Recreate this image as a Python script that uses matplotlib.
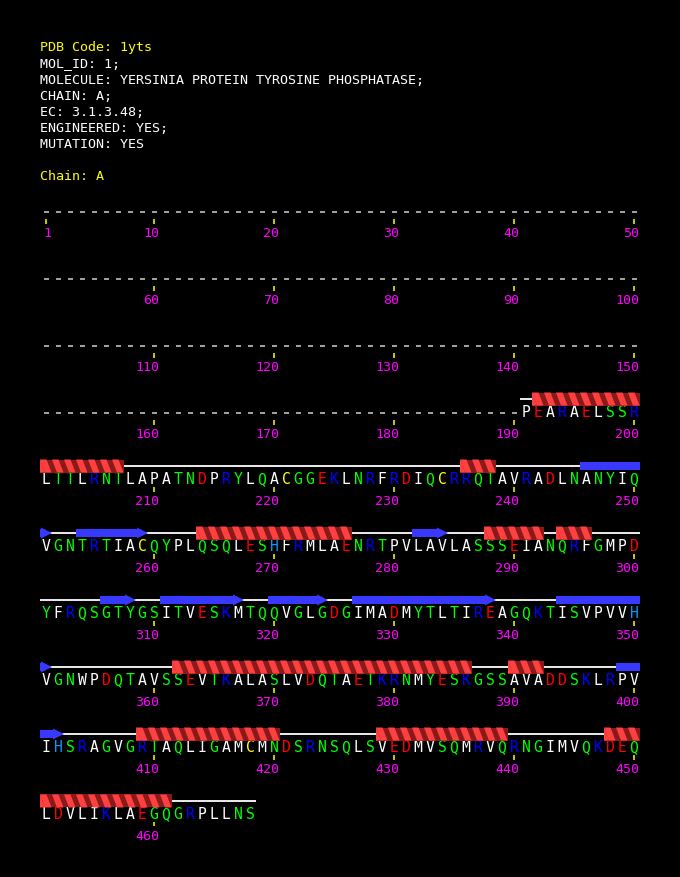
import matplotlib
matplotlib.use("Agg")
import matplotlib.pyplot as plt
from matplotlib.patches import Polygon, Rectangle

# ---------------- data ----------------
pdb_code = "1yts"
header_lines = [
    "MOL_ID: 1;",
    "MOLECULE: YERSINIA PROTEIN TYROSINE PHOSPHATASE;",
    "CHAIN: A;",
    "EC: 3.1.3.48;",
    "ENGINEERED: YES;",
    "MUTATION: YES",
]
chain_id = "A"
n_residues = 468
first_observed = 191
observed_seq = (
    "PEARAELSSR"
    "LTTLRNTLAPATNDPRYLQACGGEKLNRFRDIQCRRQTAVRADLNANYIQ"
    "VGNTRTIACQYPLQSQLESHFRMLAENRTPVLAVLASSSEIANQRFGMPD"
    "YFRQSGTYGSITVESKMTQQVGLGDGIMADMYTLTIREAGQKTISVPVVH"
    "VGNWPDQTAVSSEVTKALASLVDQTAETKRNMYESKGSSAVADDSKLRPV"
    "IHSRAGVGRTAQLIGAMCMNDSRNSQLSVEDMVSQMRVQRNGIMVQKDEQ"
    "LDVLIKLAEGQGRPLLNS"
)
helices = [(192, 207), (236, 238), (264, 276), (288, 292), (294, 296),
           (362, 386), (390, 392), (409, 420), (429, 439), (448, 461)]
strands = [(246, 251), (254, 259), (282, 284), (306, 308), (311, 317),
           (320, 324), (327, 338), (344, 351), (399, 402)]
label_residues = [1] + list(range(10, 461, 10))

# ---------------- style ----------------
W, H = 680, 878
per_row = 50
cell = 12.0
x_first = 46.0
y_first = 212.0
row_gap = 67.0
font = "DejaVu Sans Mono"
fs = 9.6
fs_seq = 10.6

res_colors = {}
for a in "AVLIMFWP":
    res_colors[a] = "#ffffff"
for a in "STNQGY":
    res_colors[a] = "#00ff00"
for a in "DE":
    res_colors[a] = "#ff0000"
for a in "KR":
    res_colors[a] = "#0000ff"
res_colors["H"] = "#0099ff"
res_colors["C"] = "#ffff00"

helix_light = "#ff4040"
helix_dark = "#8a1a1a"
strand_col = "#3838ff"

fig = plt.figure(figsize=(W / 100, H / 100), dpi=100)
fig.patch.set_facecolor("black")
ax = fig.add_axes([0, 0, 1, 1])
ax.set_xlim(0, W)
ax.set_ylim(H, 0)
ax.axis("off")
ax.set_facecolor("black")


def pos(n):
    r = (n - 1) // per_row
    c = (n - 1) % per_row
    return x_first + c * cell, y_first + r * row_gap


# header
ax.text(40, 48, f"PDB Code: {pdb_code}", color="#ffff00", fontsize=fs,
        family=font, va="center", ha="left")
for i, line in enumerate(header_lines):
    ax.text(40, 64 + 16 * i, line, color="#ffffff", fontsize=fs,
            family=font, va="center", ha="left")
ax.text(40, 177, f"Chain: {chain_id}", color="#ffff00", fontsize=fs,
        family=font, va="center", ha="left")

# residues
for n in range(1, n_residues + 1):
    x, y = pos(n)
    if n < first_observed:
        ax.plot([x - 2.5, x + 2.5], [y + 0.5, y + 0.5], color="#d0d0d0",
                lw=1.1, solid_capstyle="butt")
    else:
        aa = observed_seq[n - first_observed]
        ax.text(x, y, aa, color=res_colors.get(aa, "#ffffff"), fontsize=fs_seq,
                family=font, ha="center", va="center")

# labels and ticks
for n in label_residues:
    x, y = pos(n)
    ax.plot([x, x], [y + 8.0, y + 12.5], color="#ffff00", lw=1.1,
            solid_capstyle="butt")
    ax.text(x + 5, y + 21.5, str(n), color="#ff00ff", fontsize=fs,
            family=font, ha="right", va="center")


def row_segments(a, b):
    segs = []
    n = a
    while n <= b:
        r = (n - 1) // per_row
        row_end = (r + 1) * per_row
        e = min(b, row_end)
        segs.append((n, e))
        n = e + 1
    return segs


# coil line
for a, b in row_segments(first_observed, n_residues):
    xa, y = pos(a)
    xb, _ = pos(b)
    ax.plot([xa - cell / 2, xb + cell / 2], [y - 13, y - 13],
            color="#ffffff", lw=1.3, solid_capstyle="butt", zorder=2)

# helices
for hs, he in helices:
    for a, b in row_segments(hs, he):
        xa, y = pos(a)
        xb, _ = pos(b)
        yc = y - 13
        top, bot = yc - 6.5, yc + 6.5
        left, right = xa - cell / 2, xb + cell / 2
        ax.add_patch(Rectangle((left, top), right - left, bot - top,
                               facecolor=helix_dark, edgecolor="none", zorder=3))
        for n in range(a, b + 1):
            xl = pos(n)[0] - cell / 2
            poly = [(xl, top), (xl + 6.5, top), (xl + 11.5, bot), (xl + 5, bot)]
            poly = [(min(max(px, left), right), py) for px, py in poly]
            ax.add_patch(Polygon(poly, closed=True, facecolor=helix_light,
                                 edgecolor="none", zorder=4))
        ax.add_patch(Polygon([(left, top), (left + 5, bot), (left, bot)],
                             closed=True, facecolor=helix_light,
                             edgecolor="none", zorder=4))

# strands
for ss, se in strands:
    segs = row_segments(ss, se)
    for i, (a, b) in enumerate(segs):
        xa, y = pos(a)
        xb, _ = pos(b)
        yc = y - 13
        left, right = xa - cell / 2, xb + cell / 2
        last = (i == len(segs) - 1)
        if last:
            head_len = min(11.0, right - left)
            body_end = right - head_len
            if body_end > left:
                ax.add_patch(Rectangle((left, yc - 4.0), body_end - left, 8.0,
                                       facecolor=strand_col, edgecolor="none",
                                       zorder=4))
            ax.add_patch(Polygon([(body_end, yc - 5.5), (right, yc),
                                  (body_end, yc + 5.5)], closed=True,
                                 facecolor=strand_col, edgecolor="none",
                                 zorder=4))
        else:
            ax.add_patch(Rectangle((left, yc - 4.0), right - left, 8.0,
                                   facecolor=strand_col, edgecolor="none",
                                   zorder=4))

fig.savefig("out.png", dpi=100, facecolor="black")
